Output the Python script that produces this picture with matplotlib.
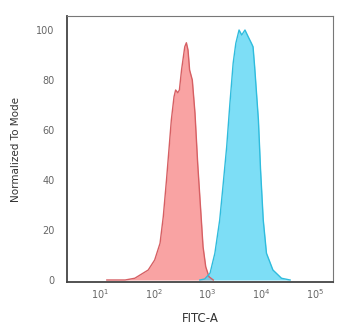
import numpy as np
import matplotlib
matplotlib.use("Agg")
import matplotlib.pyplot as plt

# isotype control (red) - log10 of FITC-A vs normalized count
red_log = [1.13, 1.47, 1.65, 1.90, 2.02, 2.12, 2.18, 2.24, 2.29, 2.33, 2.38,
           2.41, 2.45, 2.48, 2.52, 2.58, 2.61, 2.64, 2.67, 2.72, 2.77, 2.82,
           2.88, 2.92, 2.97, 3.03, 3.11]
red_val = [0.0, 0.0, 0.7, 4.0, 8.0, 14.7, 25.3, 40.0, 53.3, 64.0, 73.3,
           76.0, 74.9, 76.0, 84.0, 93.3, 94.9, 92.0, 84.0, 80.0, 66.7, 46.7,
           26.7, 13.3, 5.3, 1.3, 0.0]

# stained sample (blue)
blue_log = [2.86, 2.95, 3.05, 3.14, 3.23, 3.29, 3.36, 3.42, 3.48, 3.53, 3.59,
            3.64, 3.70, 3.76, 3.82, 3.85, 3.88, 3.95, 3.99, 4.04, 4.10, 4.22,
            4.38, 4.54]
blue_val = [0.0, 0.4, 2.7, 10.7, 24.0, 37.3, 53.3, 70.7, 86.7, 94.7, 100.0,
            98.0, 100.0, 97.3, 94.7, 93.3, 85.3, 64.0, 44.0, 24.0, 10.7, 4.0,
            0.7, 0.0]

yticks = [0, 20, 40, 60, 80, 100]
xticks = [1e1, 1e2, 1e3, 1e4, 1e5]

fig = plt.figure(figsize=(3.5, 3.32), dpi=100)
ax = fig.add_axes([0.191, 0.1506, 0.76, 0.8012])

rx = 10 ** np.array(red_log)
bx = 10 ** np.array(blue_log)
ax.fill_between(rx, red_val, color="#F9A3A3", lw=0)
ax.plot(rx, red_val, color="#D65F63", lw=1.0)
ax.fill_between(bx, blue_val, color="#52D3F4", alpha=0.75, lw=0)
ax.plot(bx, blue_val, color="#2FBCDD", lw=1.0)

ax.set_xscale("log")
ax.set_xlim(10 ** 0.386, 10 ** 5.335)
ax.set_ylim(-0.8, 105.6)
ax.set_xticks(xticks)
ax.minorticks_off()
ax.set_yticks(yticks)
ax.tick_params(length=0, labelsize=7, colors="#666666")
ax.tick_params(axis="y", pad=9)
ax.tick_params(axis="x", pad=4)

for s in ("left", "bottom"):
    ax.spines[s].set_color("#444444")
    ax.spines[s].set_linewidth(1.3)
for s in ("top", "right"):
    ax.spines[s].set_color("#777777")
    ax.spines[s].set_linewidth(0.8)

ax.set_xlabel("FITC-A", fontsize=8.5, color="#333333", labelpad=8)
ax.set_ylabel("Normalized To Mode", fontsize=7.5, color="#333333", labelpad=11)

fig.savefig("out.png", dpi=100)
